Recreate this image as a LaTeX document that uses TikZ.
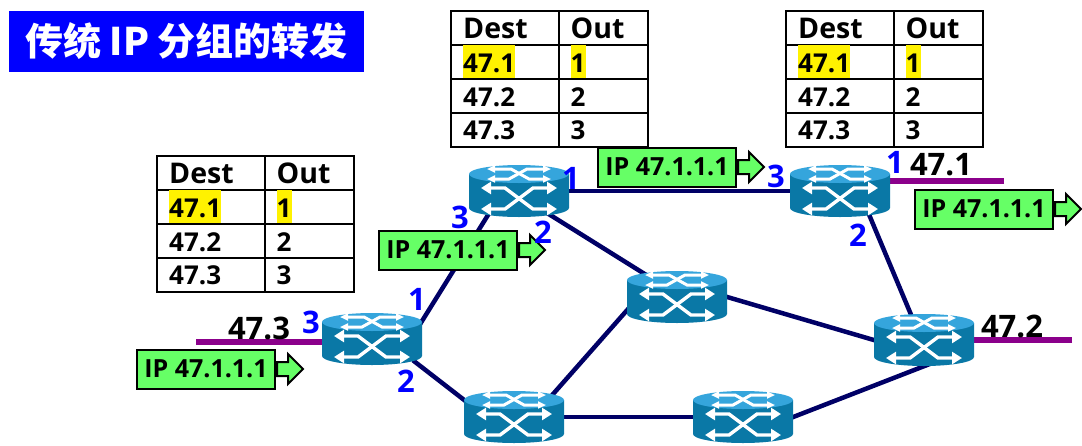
\documentclass[tikz,border=0pt]{standalone}
\usepackage{fontspec}
\setmainfont{Open Sans}
\newfontfamily\cjk{Noto Sans CJK SC}
\usepackage{xcolor}
\usetikzlibrary{positioning, arrows.meta, matrix, shapes.arrows}
\definecolor{linkc}{HTML}{000066}
\definecolor{stubc}{HTML}{8B008B}
\definecolor{pktc}{HTML}{66FF66}
\definecolor{bodyc}{HTML}{0A78A6}
\definecolor{topc}{HTML}{35A5DC}
\newcommand{\hit}[1]{{\fboxsep=0pt\colorbox{yellow}{\rule[-6pt]{0pt}{33pt}#1}}}
\newcommand{\fibtable}[2]{%
  \matrix[routetable, ampersand replacement=\&] (#1) at (#2) {
    Dest \& Out \\
    \hit{47.1} \& \hit{1} \\
    47.2 \& 2 \\
    47.3 \& 3 \\
  };}
\begin{document}
\begin{tikzpicture}[
    x=1pt, y=-1pt,
    router/.style={minimum width=100pt, minimum height=52pt, inner sep=0pt},
    routericon/.pic={
      \fill[bodyc] (-50,-17) -- (-50,17)
        arc[start angle=180, end angle=360, x radius=50pt, y radius=9pt] -- (50,-17) -- cycle;
      \fill[topc] (0,-17) ellipse[x radius=50pt, y radius=9pt];
      \draw[white, line width=3.4pt, {Triangle[width=12pt,length=10pt]}-{Triangle[width=12pt,length=10pt]}]
        (-38,-3) -- (-14,-3) -- (14,18) -- (38,18);
      \draw[white, line width=3.4pt, {Triangle[width=12pt,length=10pt]}-{Triangle[width=12pt,length=10pt]}]
        (-38,18) -- (-14,18) -- (14,-3) -- (38,-3);
      \draw[white, line width=3pt, {Triangle[width=7pt,length=8pt]}-{Triangle[width=7pt,length=8pt]}]
        (-32,-22) -- (-8,-22) -- (10,-12) -- (32,-12);
      \draw[white, line width=3pt, {Triangle[width=7pt,length=8pt]}-{Triangle[width=7pt,length=8pt]}]
        (-32,-12) -- (-10,-12) -- (8,-22) -- (32,-22);
    },
    link/.style={draw=linkc, line width=4.5pt, shorten <=-8pt, shorten >=-8pt},
    stub/.style={draw=stubc, line width=5.5pt},
    port/.style={text=blue, font=\fontsize{31}{31}\selectfont\bfseries, inner sep=0pt},
    net/.style={font=\fontsize{31}{31}\selectfont\bfseries, inner sep=0pt},
    pkt/.style={draw=black, line width=2pt, fill=pktc, inner sep=0pt,
                minimum width=138pt, minimum height=39pt,
                font=\fontsize{25}{25}\selectfont\bfseries},
    pkttip/.style={draw=black, line width=2pt, fill=pktc, shape=single arrow, inner sep=0pt,
                   text height=12pt, text depth=0pt, minimum height=26pt,
                   single arrow head extend=8pt, single arrow tip angle=90},
    routetable/.style={matrix of nodes, anchor=north west, inner sep=0pt,
                       row sep=-2pt, column sep=-2pt,
                       nodes={draw=black, line width=2pt, align=left, inner xsep=12pt, inner ysep=0pt,
                              text height=27pt, text depth=6.9pt,
                              font=\fontsize{26}{26}\selectfont\bfseries},
                       row 1/.style={nodes={font=\fontsize{28.5}{28.5}\selectfont\bfseries}},
                       column 1/.style={nodes={text width=83.5pt}},
                       column 2/.style={nodes={text width=65.5pt}}}
  ]
  \useasboundingbox (0,0) rectangle (1082,445);

  \node[fill=blue, text=white, minimum width=355pt, minimum height=61pt, inner sep=0pt,
        font=\cjk\fontsize{38}{38}\selectfont\bfseries] (title) at (186.5,41.5) {传统 IP 分组的转发};

  % routers first, the icons go over the links
  \foreach \name/\pos in {rIn/{372,339}, rTop/{519,191}, rExit/{840,191}, rMid/{677,297},
                          rEdge/{924,340}, rLow/{514,417}, rBot/{743,417}}
    \node[router] (\name) at (\pos) {};

  \coordinate (net3) at (196,342);
  \coordinate (net1) at (1004,181);
  \coordinate (net2) at (1072,340);
  \draw[stub] (net3) -- (net3 -| rIn.center);
  \draw[stub] (net1) -- (net1 -| rExit.center);
  \draw[stub] (net2) -- (rEdge.center);

  \draw[link] (rIn.20)    -- (rTop.219);
  \draw[link] (rIn.-29)   -- (rLow.161);
  \draw[link] (rTop.east) -- (rExit.west);
  \draw[link] (rTop.-37)  -- (rMid.145);
  \draw[link] (rExit.-41) -- (rEdge.117);
  \draw[link] (rMid.east) -- (rEdge.west);
  \draw[link] (rMid.195)  -- (rLow.32);
  \draw[link] (rLow.east) -- (rBot.west);
  \draw[link] (rBot.east) -- (rEdge.south);

  \foreach \name in {rIn, rTop, rExit, rMid, rEdge, rLow, rBot}
    \pic at (\name) {routericon};

  \fibtable{tblIn}{156,155}
  \fibtable{tblTop}{450,10}
  \fibtable{tblExit}{785,10}

  \foreach \name/\pos in {pktA/{206,369}, pktB/{448,250}, pktC/{667,167}, pktD/{984,209}} {
    \node[pkt] (\name) at (\pos) {IP 47.1.1.1};
    \node[pkttip, right=0pt of \name] (\name tip) {};
  }

  \node[port] (p3a) at (311,322) {3};
  \node[port] (p1a) at (417,299) {1};
  \node[port] (p2a) at (406,381) {2};
  \node[port] (p3b) at (460,217) {3};
  \node[port] (p2b) at (543,232) {2};
  \node[port] (p1b) at (571,178) {1};
  \node[port] (p3c) at (776,176) {3};
  \node[port] (p1c) at (895,162) {1};
  \node[port] (p2c) at (858,235) {2};

  \node[net] (lab3) at (259,328) {47.3};
  \node[net] (lab1) at (941,165) {47.1};
  \node[net] (lab2) at (1012,326) {47.2};
\end{tikzpicture}
\end{document}
